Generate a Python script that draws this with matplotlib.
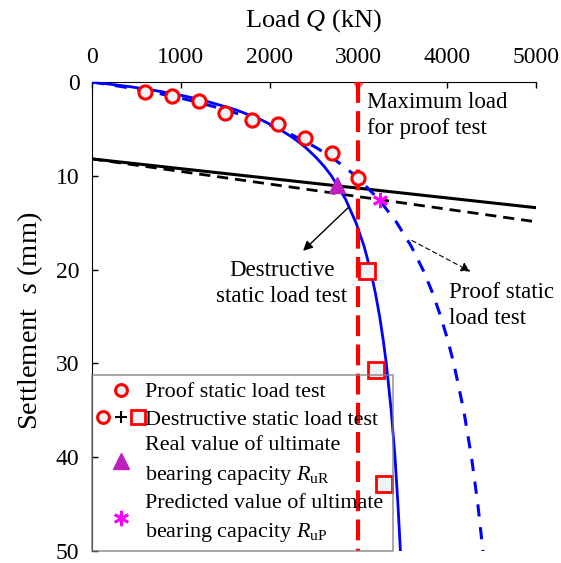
"""Load-settlement curves: proof vs destructive static load test."""

import matplotlib

matplotlib.use("Agg")

import matplotlib.pyplot as plt  # noqa: E402
from matplotlib.legend_handler import HandlerTuple  # noqa: E402
from matplotlib.lines import Line2D  # noqa: E402

plt.rcParams["font.family"] = ["Liberation Serif", "DejaVu Serif"]
plt.rcParams["mathtext.fontset"] = "custom"
plt.rcParams["mathtext.rm"] = "Liberation Serif"
plt.rcParams["mathtext.it"] = "Liberation Serif:italic"

# measured points (load kN, settlement mm)
proof_q = [600, 900, 1200, 1500, 1800, 2100, 2400, 2700, 3000]
proof_s = [1.03, 1.5, 2.0, 3.27, 4.06, 4.52, 5.94, 7.61, 10.28]
destr_q = [3100, 3200, 3290]
destr_s = [20.1, 30.7, 42.9]

# fitted curves
fit_s = [0, 0.5, 1, 1.5, 2, 3, 4, 5, 6, 7, 8, 9, 10, 12.5, 15, 17.5, 20,
         22.5, 25, 27.5, 30, 35, 40, 45, 50]
destr_fit_q = [0, 427, 766, 1043, 1272, 1631, 1899, 2107, 2273, 2408, 2520,
               2616, 2697, 2857, 2974, 3065, 3136, 3193, 3241, 3281, 3316,
               3371, 3414, 3447, 3475]
proof_fit_q = [0, 339, 635, 896, 1127, 1520, 1841, 2107, 2333, 2526, 2693,
               2839, 2967, 3231, 3434, 3596, 3728, 3838, 3929, 4008, 4076,
               4188, 4276, 4347, 4405]

# tangent lines
tan_q = [0, 5000]
tan_destr_s = [8.2, 13.4]
tan_proof_s = [8.2, 14.9]

max_proof_load = 3000
real_ult = (2766, 11.0)
pred_ult = (3247, 12.6)

x_ticks = [0, 1000, 2000, 3000, 4000, 5000]
y_ticks = [0, 10, 20, 30, 40, 50]

RED = "#ff0000"
BLUE = "#0000ff"
FILL = "#eef3fa"
PURPLE = "#bf1fbf"
MAGENTA = "#ff00ff"

fig = plt.figure(figsize=(5.61, 5.63), dpi=100)
ax = fig.add_axes([0.164, 0.0213, 0.791, 0.8331])

ax.plot(tan_q, tan_destr_s, color="k", lw=2.2, zorder=2)
ax.plot(tan_q, tan_proof_s, color="k", lw=2, ls=(0, (4, 2.5)), zorder=2)
ax.plot(destr_fit_q, fit_s, color=BLUE, lw=2, zorder=3)
ax.plot(proof_fit_q, fit_s, color=BLUE, lw=2.2, ls=(0, (4, 3.5)), zorder=3)
ax.plot([max_proof_load, max_proof_load], [0, 50], color=RED, lw=3,
        ls=(0, (5, 2)), zorder=4)
ax.plot([max_proof_load], [0], "o", color=RED, alpha=0.5, ms=6, zorder=4)

circ = ax.plot(proof_q, proof_s, "o", ms=9.5, mfc=FILL, mec=RED, mew=2.2,
               zorder=5)[0]
sq = ax.plot(destr_q, destr_s, "s", ms=11, mfc=FILL, mec=RED, mew=2,
             zorder=5)[0]
tri = ax.plot([real_ult[0]], [real_ult[1]], "^", ms=12, color=PURPLE, zorder=6)[0]
star = ax.plot([pred_ult[0]], [pred_ult[1]], marker=(6, 2, 0), ls="none",
               ms=11, mew=2, color=MAGENTA, zorder=6)[0]

ax.set_xlim(0, 5000)
ax.set_ylim(50, 0)
ax.set_xticks(x_ticks)
ax.set_yticks(y_ticks)
ax.xaxis.tick_top()
ax.xaxis.set_label_position("top")
ax.tick_params(direction="in", length=4, width=1, labelsize=17)
ax.tick_params(axis="x", pad=10)
ax.tick_params(axis="y", pad=9)
for side in ("right", "bottom"):
    ax.spines[side].set_visible(False)
ax.set_xlabel("Load $Q$ (kN)", fontsize=19, labelpad=15)
ax.set_ylabel("Settlement  $s$ (mm)", fontsize=20.5)
ax.yaxis.set_label_coords(-0.105, 0.49)

ax.text(3100, 3.6, "Maximum load\nfor proof test", fontsize=16.5,
        ha="left", va="center", linespacing=1.3)
ax.text(2140, 21.5, "Destructive\nstatic load test", fontsize=16.5,
        ha="center", va="center", linespacing=1.3)
ax.text(4026, 23.8, "Proof static\nload test", fontsize=16.5,
        ha="left", va="center", linespacing=1.3)

ax.annotate("", xy=(2378, 18.0), xytext=(2886, 13.4),
            arrowprops=dict(arrowstyle="-|>", color="k", lw=1,
                            mutation_scale=14, shrinkA=0, shrinkB=0))
ax.annotate("", xy=(4263, 20.2), xytext=(3605, 16.9),
            arrowprops=dict(arrowstyle="-|>", color="k", lw=0.8,
                            ls=(0, (4, 3)), mutation_scale=14,
                            shrinkA=0, shrinkB=0))

plus = Line2D([], [], marker="+", color="k", ls="none", ms=8, mew=1.5)
circ_h = Line2D([], [], marker="o", ls="none", ms=8.5, mfc=FILL, mec=RED, mew=2.2)
sq_h = Line2D([], [], marker="s", ls="none", ms=10, mfc=FILL, mec=RED, mew=2)

leg = ax.legend(
    [circ_h, (circ_h, plus, sq_h), tri, star],
    ["Proof static load test",
     "Destructive static load test",
     "Real value of ultimate\nbearing capacity $R_{\\rm uR}$",
     "Predicted value of ultimate\nbearing capacity $R_{\\rm uP}$"],
    handler_map={tuple: HandlerTuple(ndivide=None, pad=0.34)},
    loc="lower left", bbox_to_anchor=(0, 0, 0.678, 0.385), mode="expand",
    borderaxespad=0, fontsize=15.9, handlelength=2.0, handletextpad=0.1,
    borderpad=0.3, labelspacing=0.3, fancybox=False, frameon=True,
)
for t in leg.get_texts():
    t.set_linespacing(1.55)
leg.get_frame().set_facecolor("none")
leg.get_frame().set_edgecolor("#808080")
leg.get_frame().set_linewidth(1.2)

fig.savefig("out.png", dpi=100)
